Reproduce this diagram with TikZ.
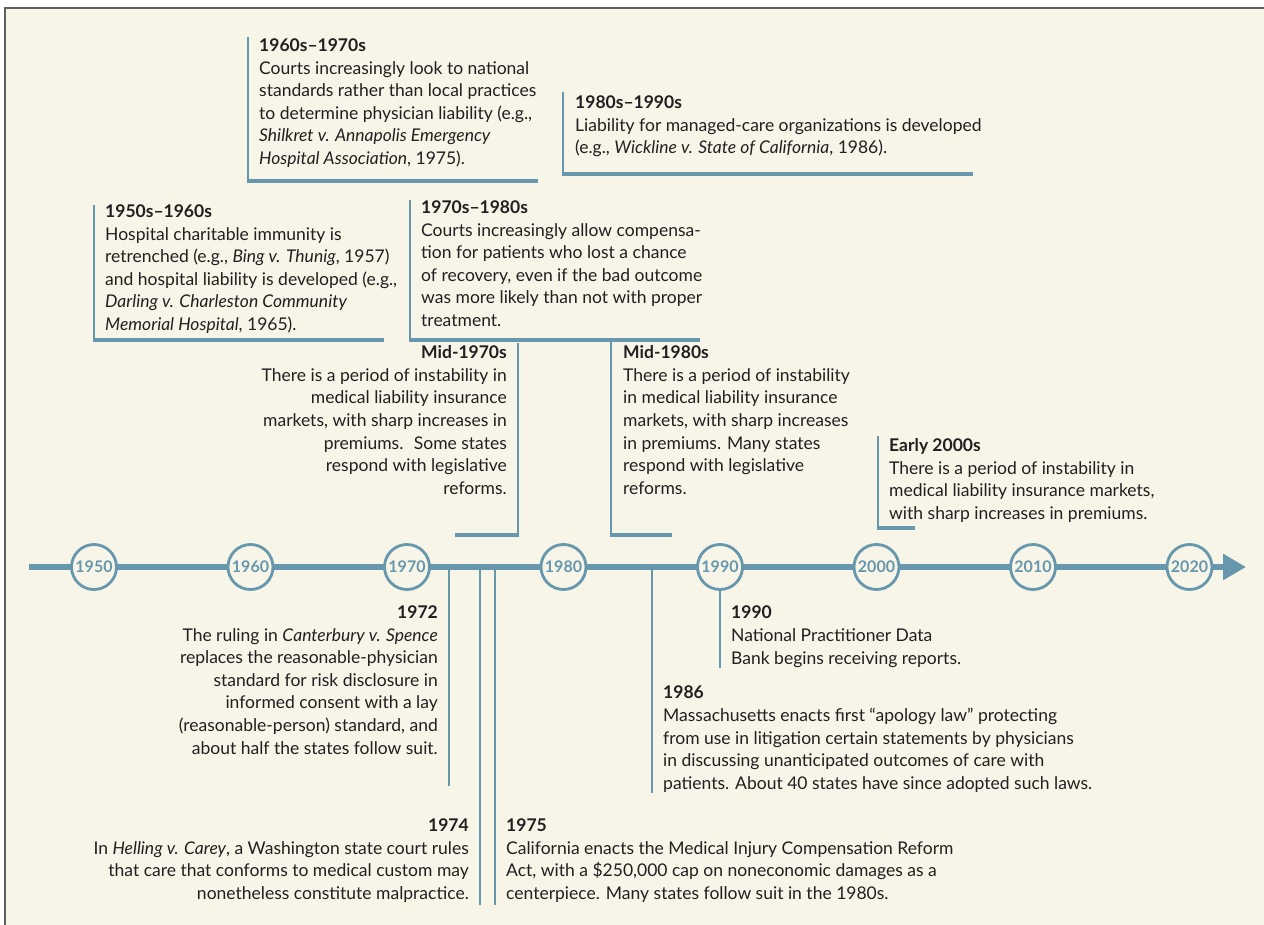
\documentclass[tikz,border=0pt]{standalone}
\usepackage{fontspec}
\setmainfont{Lato}
\usetikzlibrary{arrows.meta}
\definecolor{bg}{HTML}{F7F4E8}
\definecolor{tl}{HTML}{6797AD}
\definecolor{ink}{HTML}{231F20}
\definecolor{framec}{HTML}{5F5F5F}
\begin{document}
\begin{tikzpicture}[x=1pt,y=-1pt,
  evt/.style={inner sep=0pt, text=ink, font=\fontsize{17.5}{22.6}\selectfont},
  evl/.style={evt, anchor=north west, align=left},
  evr/.style={evt, anchor=north east, align=right},
  stem/.style={draw=tl, line width=2pt},
  bar/.style={draw=tl, line width=4pt},
  yr/.style={circle, draw=tl, fill=bg, line width=2.8pt, minimum size=45pt, inner sep=0pt, text=tl, font=\bfseries\fontsize{16}{16}\selectfont},
  axisline/.style={draw=tl, line width=6pt}]
\useasboundingbox (0,0) rectangle (1264,925);
\fill[white] (0,0) rectangle (1264,925);
\fill[bg] (5,8) rectangle (1264,925);
\draw[framec, line width=2.5pt] (5,925) -- (5,8) -- (1264,8);

% ---------- upper boxes ----------
\node[evl] (e6070) at (259,38.5) {\textbf{1960s–1970s}\\Courts increasingly look to national\\standards rather than local practices\\to determine physician liability (e.g.,\\\textit{Shilkret v. Annapolis Emergency}\\\textit{Hospital Association}, 1975).};
\coordinate (a1) at (248,37); \coordinate (b1) at (248,181); \coordinate (c1) at (538,181);
\draw[stem] (a1) -- (b1); \draw[bar] ([xshift=-1pt]b1) -- (c1);

\node[evl] (e8090) at (575,95.5) {\textbf{1980s–1990s}\\Liability for managed-care organizations is developed\\(e.g., \textit{Wickline v. State of California}, 1986).};
\coordinate (a2) at (563,92); \coordinate (b2) at (563,174); \coordinate (c2) at (973,174);
\draw[stem] (a2) -- (b2); \draw[bar] ([xshift=-1pt]b2) -- (c2);

\node[evl] (e5060) at (105,204.5) {\textbf{1950s–1960s}\\Hospital charitable immunity is\\retrenched (e.g., \textit{Bing v. Thunig}, 1957)\\and hospital liability is developed (e.g.,\\\textit{Darling v. Charleston Community}\\\textit{Memorial Hospital}, 1965).};
\coordinate (a3) at (94,205); \coordinate (b3) at (94,340); \coordinate (c3) at (384,340);
\draw[stem] (a3) -- (b3); \draw[bar] ([xshift=-1pt]b3) -- (c3);

\node[evl] (e7080) at (421,200.5) {\textbf{1970s–1980s}\\Courts increasingly allow compensa-\\tion for patients who lost a chance\\of recovery, even if the bad outcome\\was more likely than not with proper\\treatment.};
\coordinate (a4) at (410,200); \coordinate (b4) at (410,340); \coordinate (c4) at (700,340);
\draw[stem] (a4) -- (b4); \draw[bar] ([xshift=-1pt]b4) -- (c4);

% ---------- mid boxes ----------
\node[evr] (m70) at (507,345.5) {\textbf{Mid-1970s}\\There is a period of instability in\\medical liability insurance\\markets, with sharp increases in\\premiums.~ Some states\\respond with legislative\\reforms.};
\coordinate (a5) at (518,343); \coordinate (b5) at (518,535); \coordinate (c5) at (455,535);
\draw[stem] (a5) -- (b5); \draw[bar] ([xshift=1pt]b5) -- (c5);

\node[evl] (m80) at (623,345.5) {\textbf{Mid-1980s}\\There is a period of instability\\in medical liability insurance\\markets, with sharp increases\\in premiums. Many states\\respond with legislative\\reforms.};
\coordinate (a6) at (611,340); \coordinate (b6) at (611,535); \coordinate (c6) at (672,535);
\draw[stem] (a6) -- (b6); \draw[bar] ([xshift=-1pt]b6) -- (c6);

\node[evl] (m00) at (889,438.5) {\textbf{Early 2000s}\\There is a period of instability in\\medical liability insurance markets,\\with sharp increases in premiums.};
\coordinate (a7) at (878,436); \coordinate (b7) at (878,528); \coordinate (c7) at (915,528);
\draw[stem] (a7) -- (b7); \draw[bar] ([xshift=-1pt]b7) -- (c7);

% ---------- lower events ----------
\coordinate (p72) at (449,567); \coordinate (q72) at (449,786);
\coordinate (p74) at (480,567); \coordinate (q74) at (480,905);
\coordinate (p75) at (495,567); \coordinate (q75) at (495,905);
\coordinate (p86) at (652,567); \coordinate (q86) at (652,793);
\coordinate (q90) at (720,668);
\draw[stem] (p72) -- (q72);
\draw[stem] (p74) -- (q74);
\draw[stem] (p75) -- (q75);
\draw[stem] (p86) -- (q86);

\node[evr] (e72) at (438,605.5) {\textbf{1972}\\The ruling in \textit{Canterbury v. Spence}\\replaces the reasonable-physician\\standard for risk disclosure in\\informed consent with a lay\\(reasonable-person) standard, and\\about half the states follow suit.};
\node[evr] (e74) at (469,818.5) {\textbf{1974}\\In \textit{Helling v. Carey}, a Washington state court rules\\that care that conforms to medical custom may\\nonetheless constitute malpractice.};
\node[evl] (e75) at (506,818.5) {\textbf{1975}\\California enacts the Medical Injury Compensation Reform\\Act, with a \$250,000 cap on noneconomic damages as a\\centerpiece. Many states follow suit in the 1980s.};
\node[evl] (e86) at (663,686) {\textbf{1986}\\Massachusetts enacts first “apology law” protecting\\from use in litigation certain statements by physicians\\in discussing unanticipated outcomes of care with\\patients. About 40 states have since adopted such laws.};
\node[evl] (e90) at (731,606) {\textbf{1990}\\National Practitioner Data\\Bank begins receiving reports.};

% ---------- axis ----------
\coordinate (axL) at (29,567); \coordinate (axR) at (1246,567);
\draw[axisline, -{Triangle[length=23pt,width=25pt]}] (axL) -- (axR);
\foreach \yy [count=\i from 0] in {1950,1960,1970,1980,1990,2000,2010,2020}
  \node[yr] (y\yy) at ({94+156.5*\i},567) {\yy};
\draw[stem] (y1990.south) -- (q90);
\end{tikzpicture}
\end{document}
